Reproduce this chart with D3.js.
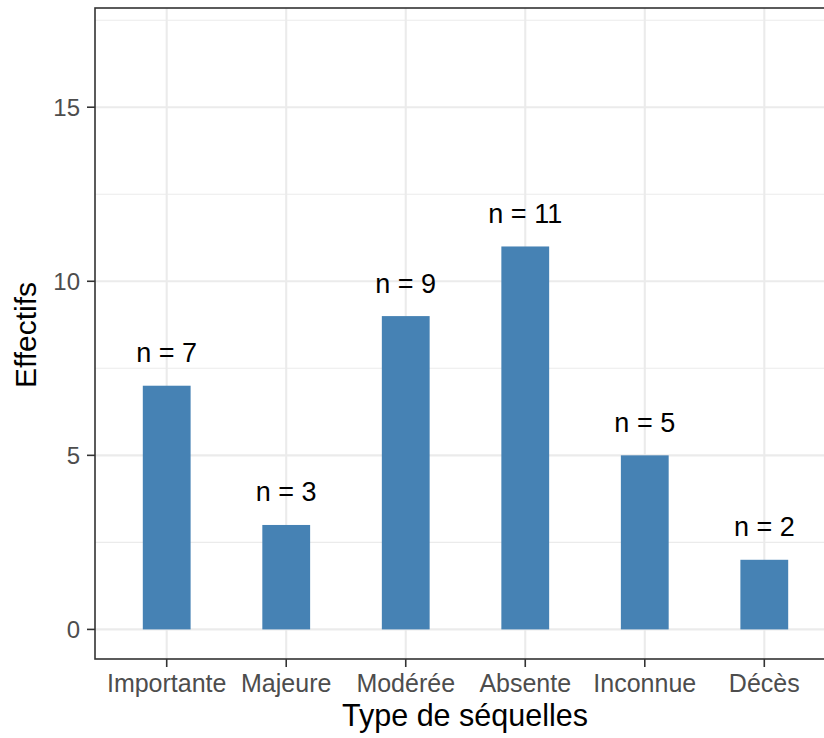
<!DOCTYPE html>
<html><head><meta charset="utf-8">
<script src="https://cdn.jsdelivr.net/npm/d3@7"></script>
<style>
html,body{margin:0;padding:0;background:#fff;}
text{font-family:"Liberation Sans",Arial,Helvetica,sans-serif;}
</style></head>
<body><svg id="chart" width="824" height="738"></svg>
<script>
const categories = ["Importante","Majeure","Modérée","Absente","Inconnue","Décès"];
const values = [7,3,9,11,5,2];
const yTicks = [0,5,10,15];
const yMinor = [2.5,7.5,12.5,17.5];
const xTitle = "Type de séquelles";
const yTitle = "Effectifs";

const svg = d3.select("#chart");
const pL = 95, pR = 836, pT = 8, pB = 659;

// ggplot discrete expansion: 0.6 units each side
const x = d3.scalePoint().domain(categories).range([pL, pR]).padding(0.6);
const step = x.step();
const y = d3.scaleLinear().domain([-0.85, 17.85]).range([pB, pT]);

const g = svg.append("g");
g.selectAll(".minor").data(yMinor).enter().append("line")
  .attr("x1", pL).attr("x2", pR).attr("y1", d=>y(d)).attr("y2", d=>y(d))
  .attr("stroke", "#ebebeb").attr("stroke-width", 1.1);
g.selectAll(".majory").data(yTicks).enter().append("line")
  .attr("x1", pL).attr("x2", pR).attr("y1", d=>y(d)).attr("y2", d=>y(d))
  .attr("stroke", "#ebebeb").attr("stroke-width", 2.1);
g.selectAll(".majorx").data(categories).enter().append("line")
  .attr("y1", pT).attr("y2", pB).attr("x1", d=>x(d)).attr("x2", d=>x(d))
  .attr("stroke", "#ebebeb").attr("stroke-width", 2.1);

const bw = step*0.4;
g.selectAll(".bar").data(categories).enter().append("rect")
  .attr("x", d=>x(d)-bw/2).attr("width", bw)
  .attr("y", (d,i)=>y(values[i])).attr("height", (d,i)=>y(0)-y(values[i]))
  .attr("fill", "#4682b4");

g.selectAll(".lab").data(categories).enter().append("text")
  .attr("x", d=>x(d)).attr("y", (d,i)=>y(values[i]) - 23.5)
  .attr("text-anchor", "middle").attr("font-size", 27).attr("fill", "#000")
  .text((d,i)=>"n = " + values[i]);

g.append("rect").attr("x", pL).attr("y", pT).attr("width", pR-pL).attr("height", pB-pT)
  .attr("fill", "none").attr("stroke", "#333").attr("stroke-width", 1.6);

yTicks.forEach(v=>{
  g.append("line").attr("x1", pL-8).attr("x2", pL).attr("y1", y(v)).attr("y2", y(v))
    .attr("stroke", "#333").attr("stroke-width", 1.6);
  g.append("text").attr("x", 80).attr("y", y(v)).attr("dy", "0.36em")
    .attr("text-anchor", "end").attr("font-size", 24).attr("fill", "#4d4d4d").text(v);
});
categories.forEach(c=>{
  g.append("line").attr("y1", pB).attr("y2", pB+8).attr("x1", x(c)).attr("x2", x(c))
    .attr("stroke", "#333").attr("stroke-width", 1.6);
  g.append("text").attr("x", x(c)).attr("y", 692)
    .attr("text-anchor", "middle").attr("font-size", 25).attr("fill", "#4d4d4d").text(c);
});

svg.append("text").attr("x", 465).attr("y", 726).attr("text-anchor", "middle")
  .attr("font-size", 30.5).attr("fill", "#000").text(xTitle);
svg.append("text").attr("transform", `translate(36,335) rotate(-90)`)
  .attr("text-anchor", "middle").attr("font-size", 30).attr("fill", "#000").text(yTitle);
</script></body></html>
